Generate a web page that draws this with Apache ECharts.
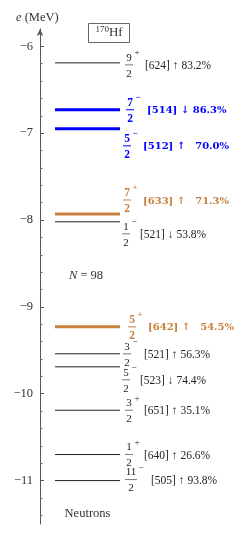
<!DOCTYPE html>
<html>
<head>
<meta charset="utf-8">
<script src="https://cdn.jsdelivr.net/npm/echarts@6/dist/echarts.min.js"></script>
<style>
html,body{margin:0;padding:0;background:#fff;}
#chart{width:246px;height:533px;}
</style>
</head>
<body>
<div id="chart"></div>
<script>
// ---- data ----
const energies   = [-6.19, -6.73, -6.95, -7.93, -8.02, -9.23, -9.54, -9.69, -10.19, -10.70, -11.00];
const numerators = ['9', '7', '5', '7', '1', '5', '3', '5', '3', '1', '11'];
const denominators = ['2', '2', '2', '2', '2', '2', '2', '2', '2', '2', '2'];
const parities   = ['+', '−', '−', '+', '−', '+', '−', '−', '+', '+', '−'];
const nilsson    = ['[624]', '[514]', '[512]', '[633]', '[521]', '[642]', '[521]', '[523]', '[651]', '[640]', '[505]'];
const spins      = ['↑', '↓', '↑', '↑', '↓', '↑', '↑', '↓', '↑', '↑', '↑'];
const amplitudes = ['83.2%', '86.3%', '70.0%', '71.3%', '53.8%', '54.5%', '56.3%', '74.4%', '35.1%', '26.6%', '93.8%'];
const groups     = ['plain', 'blue', 'blue', 'orange', 'plain', 'orange', 'plain', 'plain', 'plain', 'plain', 'plain'];
const majorTicks = [-11, -10, -9, -8, -7, -6];
const minorTicks = [-11.4, -11.2, -10.8, -10.6, -10.4, -10.2, -9.8, -9.6, -9.4, -9.2, -8.8, -8.6, -8.4, -8.2,
                    -7.8, -7.6, -7.4, -7.2, -6.8, -6.6, -6.4, -6.2];

// ---- layout / style (not data) ----
const labelDy   = [3, 1, 18, -13, 13, 1, 1, 14, 1, 1, 0];
const fracDx    = [9, 10, 7, 7, 6, 12, 7, 6, 9, 9, 11];
const textDx    = [25, 27, 23, 23, 20, 28, 24, 20, 24, 24, 31];
const wideGap   = [0, 0, 1, 1, 0, 1, 0, 0, 0, 0, 0];
const groupStyle = {
  plain:  {color: '#222', lw: 1, bold: false},
  blue:   {color: '#0000ff', lw: 3, bold: true},
  orange: {color: '#c8803c', lw: 3, bold: true}
};
const FONT = '"Liberation Serif","DejaVu Serif",serif';
const BFONT = '"DejaVu Serif","Liberation Serif",serif';

const chart = echarts.init(document.getElementById('chart'), null, {renderer: 'canvas'});

function renderItem(params, api) {
  const i = params.dataIndex;
  const e = api.value(1);
  const p0 = api.coord([0, e]);
  const p1 = api.coord([1, e]);
  const st = groupStyle[groups[i]];
  const fracFont = st.bold ? 'bold 11.5px ' + FONT : '11px ' + FONT;
  const signFont = st.bold ? 'bold 9px ' + FONT : '9px ' + FONT;
  const mainFont = st.bold ? 'bold 10px ' + BFONT : '11.5px ' + FONT;
  const y = p1[1];
  const cy = y + labelDy[i];
  const fx = p1[0] + fracDx[i];
  const half = numerators[i].length > 1 ? 6 : 4;
  const children = [
    {type: 'line', shape: {x1: p0[0], y1: y, x2: p1[0], y2: y},
     style: {stroke: st.color, lineWidth: st.lw}},
    {type: 'text', style: {x: fx, y: cy - 8, text: numerators[i], fill: st.color,
      font: fracFont, textAlign: 'center', textVerticalAlign: 'middle'}},
    {type: 'line', shape: {x1: fx - half, y1: cy - 1, x2: fx + half, y2: cy - 1},
     style: {stroke: st.color, lineWidth: st.bold ? 1 : 0.6}},
    {type: 'text', style: {x: fx, y: cy + 8, text: denominators[i], fill: st.color,
      font: fracFont, textAlign: 'center', textVerticalAlign: 'middle'}},
    {type: 'text', style: {x: fx + half + 4, y: cy - 13, text: parities[i], fill: st.color,
      font: signFont, textAlign: 'center', textVerticalAlign: 'middle'}},
    {type: 'text', style: {x: p1[0] + textDx[i], y: cy,
      text: nilsson[i] + ' ' + spins[i] + (wideGap[i] ? '\u2003' : ' ') + amplitudes[i],
      fill: st.color, font: mainFont, textAlign: 'left', textVerticalAlign: 'middle'}}
  ];
  return {type: 'group', children: children};
}

const option = {
  animation: false,
  backgroundColor: '#fff',
  grid: {left: 55, right: 126, top: 29, bottom: 9},
  xAxis: {type: 'value', min: 0, max: 1, show: false},
  yAxis: [
    {
      type: 'value', min: -11.5, max: -5.8, offset: 15, position: 'left',
      splitLine: {show: false},
      axisLine: {show: true, onZero: false, lineStyle: {color: '#555', width: 1}, symbol: ['none', 'arrow'], symbolSize: [5, 7]},
      axisTick: {show: true, inside: true, length: 4, lineStyle: {color: '#555'}, customValues: majorTicks},
      axisLabel: {show: true, margin: 7, color: '#333', fontFamily: FONT, fontSize: 12.5,
        customValues: majorTicks,
        formatter: v => String(v).replace('-', '−')}
    },
    {
      type: 'value', min: -11.5, max: -5.8, offset: 15, position: 'left',
      splitLine: {show: false},
      axisLine: {show: false, onZero: false},
      axisTick: {show: true, inside: true, length: 2.5, lineStyle: {color: '#666'}, customValues: minorTicks},
      axisLabel: {show: false}
    }
  ],
  series: [{
    type: 'custom',
    renderItem: renderItem,
    data: energies.map((e, i) => [i, e]),
    encode: {x: 0, y: 1},
    clip: false
  }],
  graphic: [
    {type: 'text', left: 16, top: 11, style: {
      text: '{i|e} (MeV)', fill: '#333', font: '12.5px ' + FONT,
      rich: {i: {fontStyle: 'italic', fontFamily: FONT, fontSize: 12.5, fill: '#333'}}}},
    {type: 'rect', shape: {x: 88.5, y: 23.5, width: 41, height: 19},
      style: {fill: '#fff', stroke: '#666', lineWidth: 1}},
    {type: 'text', x: 109, y: 33, style: {
      text: '{s|170}{n|Hf}', textAlign: 'center', textVerticalAlign: 'middle',
      rich: {s: {fontFamily: FONT, fontSize: 9, fill: '#333', verticalAlign: 'top', padding: [0, 0, 6, 0]},
             n: {fontFamily: FONT, fontSize: 13, fill: '#333'}}}},
    {type: 'text', x: 86, y: 276, style: {
      text: '{i|N} = 98', textAlign: 'center', textVerticalAlign: 'middle', fill: '#333', font: '12.5px ' + FONT,
      rich: {i: {fontStyle: 'italic', fontFamily: FONT, fontSize: 12.5, fill: '#333'}}}},
    {type: 'text', x: 87.5, y: 514, style: {
      text: 'Neutrons', textAlign: 'center', textVerticalAlign: 'middle', fill: '#333', font: '12.5px ' + FONT}}
  ]
};
chart.setOption(option);
</script>
</body>
</html>
